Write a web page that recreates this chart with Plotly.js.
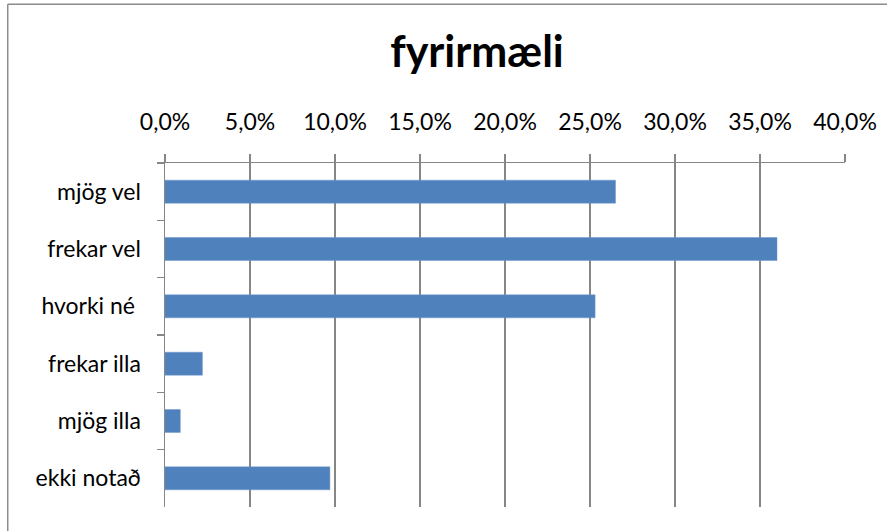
<!DOCTYPE html>
<html>
<head>
<meta charset="utf-8">
<script src="https://cdn.plot.ly/plotly-3.0.1.min.js"></script>
<style>
  html, body { margin: 0; padding: 0; background: #ffffff; }
  #chart { width: 887px; height: 531px; }
</style>
</head>
<body>
<div id="chart"></div>
<script>
const categories = ["mjög vel", "frekar vel", "hvorki né ", "frekar illa", "mjög illa", "ekki notað"];
const values = [0.265, 0.360, 0.253, 0.022, 0.009, 0.097];
const tickValues = [0, 0.05, 0.10, 0.15, 0.20, 0.25, 0.30, 0.35, 0.40];
const chartTitle = "fyrirmæli";

const FONT = "Lato, 'Open Sans', sans-serif";
const GRID = "#868686";

const trace = {
  type: "bar",
  orientation: "h",
  y: categories,
  x: values,
  marker: { color: "#4F81BD", line: { color: "#6C97CC", width: 0.5 } },
  hoverinfo: "x+y"
};

const L = 164.5, R = 41.5, T = 162.7, B = 24.3;
const W = 887 - L - R, H = 531 - T - B;
const bottomPx = 531 - B;
const bx = (7 - L) / W, by = (bottomPx - 4) / H;

const layout = {
  width: 887,
  height: 531,
  margin: { l: L, r: R, t: T, b: B, pad: 0 },
  paper_bgcolor: "#ffffff",
  plot_bgcolor: "#ffffff",
  separators: ", ",
  showlegend: false,
  bargap: 0.6,
  title: {
    text: "<b>" + chartTitle + "</b>",
    font: { family: FONT, size: 43, color: "#000000" },
    xref: "container", yref: "container",
    x: 477 / 887, xanchor: "center",
    y: 1 - 52 / 531, yanchor: "middle"
  },
  xaxis: {
    side: "top",
    range: [0, 0.4],
    tickvals: tickValues,
    tickformat: ".1%",
    showgrid: true,
    gridcolor: GRID,
    gridwidth: 1.5,
    zeroline: false,
    showline: true,
    linecolor: GRID,
    linewidth: 1.5,
    ticks: "outside",
    ticklen: 8,
    tickcolor: GRID,
    tickwidth: 1.5,
    ticklabelstandoff: 14,
    tickfont: { family: FONT, size: 23, color: "#000000" },
    fixedrange: true
  },
  yaxis: {
    type: "category",
    autorange: "reversed",
    tickson: "boundaries",
    showgrid: false,
    zeroline: false,
    showline: true,
    linecolor: GRID,
    linewidth: 1.5,
    ticks: "outside",
    ticklen: 7,
    tickcolor: GRID,
    tickwidth: 1.5,
    ticklabelstandoff: 18,
    tickfont: { family: FONT, size: 23, color: "#000000" },
    fixedrange: true
  },
  shapes: [
    { type: "line", xref: "paper", yref: "paper", x0: bx, x1: bx, y0: -1, y1: by,
      line: { color: "#8c8c8c", width: 1.5 } },
    { type: "line", xref: "paper", yref: "paper", x0: bx, x1: 2, y0: by, y1: by,
      line: { color: "#8c8c8c", width: 1.5 } }
  ]
};

Plotly.newPlot("chart", [trace], layout, { displayModeBar: false, staticPlot: true });
</script>
</body>
</html>
